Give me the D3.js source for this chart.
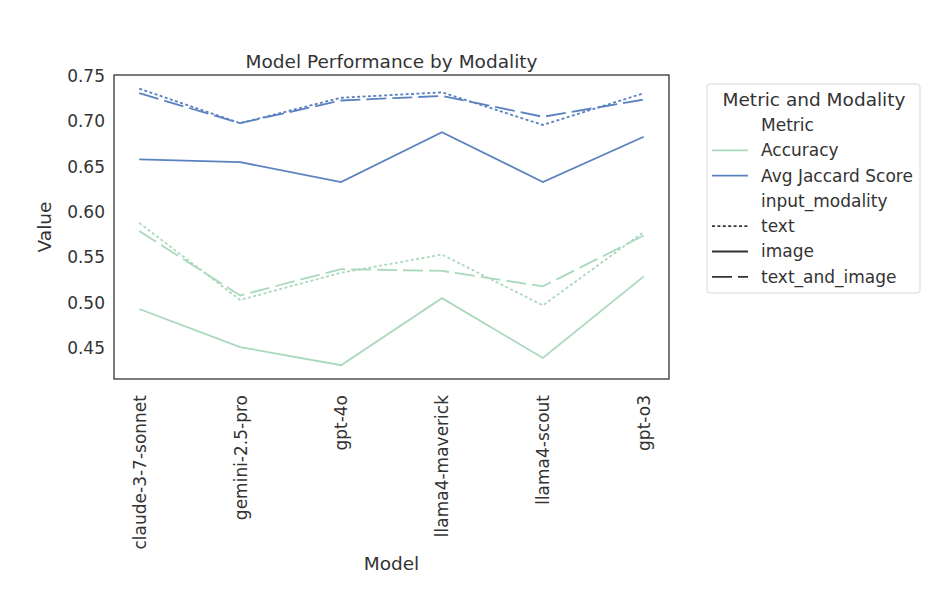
<!DOCTYPE html>
<html>
<head>
<meta charset="utf-8">
<script src="https://cdn.jsdelivr.net/npm/d3@7"></script>
<style>
  body { margin: 0; background: #ffffff; }
  svg { font-family: "DejaVu Sans", sans-serif; }
</style>
</head>
<body>
<svg id="chart" width="952" height="596"></svg>
<script>
var models = ["claude-3-7-sonnet", "gemini-2.5-pro", "gpt-4o", "llama4-maverick", "llama4-scout", "gpt-o3"];
var metrics = ["Accuracy", "Avg Jaccard Score"];
var modalities = ["text", "image", "text_and_image"];

// values per model, same order as models
var accText = [0.588, 0.503, 0.533, 0.553, 0.497, 0.578];
var accImage = [0.493, 0.451, 0.431, 0.505, 0.439, 0.529];
var accBoth = [0.579, 0.508, 0.537, 0.535, 0.518, 0.574];
var jacText = [0.736, 0.698, 0.726, 0.732, 0.696, 0.731];
var jacImage = [0.658, 0.655, 0.633, 0.688, 0.633, 0.683];
var jacBoth = [0.731, 0.698, 0.723, 0.728, 0.705, 0.724];

var yTicks = [0.45, 0.50, 0.55, 0.60, 0.65, 0.70, 0.75];

var series = [
  {metric: "Accuracy", modality: "text", values: accText},
  {metric: "Accuracy", modality: "image", values: accImage},
  {metric: "Accuracy", modality: "text_and_image", values: accBoth},
  {metric: "Avg Jaccard Score", modality: "text", values: jacText},
  {metric: "Avg Jaccard Score", modality: "image", values: jacImage},
  {metric: "Avg Jaccard Score", modality: "text_and_image", values: jacBoth}
];

var colors = {"Accuracy": "#a9d9bb", "Avg Jaccard Score": "#5b82bf"};
var dashes = {"text": "3,2.4", "image": null, "text_and_image": "20,6"};

var svg = d3.select("#chart");
var plotL = 114, plotR = 669, plotT = 75, plotB = 379;

var x = d3.scalePoint().domain(models).range([plotL, plotR]).padding(0.25);
var y = d3.scaleLinear().domain([0.4158, 0.7511]).range([plotB, plotT]);

var line = d3.line()
  .x(function(d, i) { return x(models[i]); })
  .y(function(d) { return y(d); });

// lines
svg.append("g").selectAll("path")
  .data(series)
  .join("path")
  .attr("d", function(s) { return line(s.values); })
  .attr("fill", "none")
  .attr("stroke", function(s) { return colors[s.metric]; })
  .attr("stroke-width", 1.8)
  .attr("stroke-dasharray", function(s) { return dashes[s.modality]; });

// frame
svg.append("rect")
  .attr("x", plotL).attr("y", plotT)
  .attr("width", plotR - plotL).attr("height", plotB - plotT)
  .attr("fill", "none").attr("stroke", "#333").attr("stroke-width", 1.3);

// y axis
var yAxis = svg.append("g")
  .attr("transform", "translate(" + plotL + ",0)")
  .call(d3.axisLeft(y).tickValues(yTicks).tickFormat(d3.format(".2f")).tickSize(0).tickPadding(9));
yAxis.select(".domain").remove();
yAxis.selectAll("text").attr("font-size", 17).attr("fill", "#333").attr("font-family", "DejaVu Sans");

// x axis
var xAxis = svg.append("g")
  .attr("transform", "translate(0," + plotB + ")")
  .call(d3.axisBottom(x).tickSize(0).tickPadding(0));
xAxis.select(".domain").remove();
xAxis.selectAll("text")
  .attr("font-size", 17).attr("fill", "#333").attr("font-family", "DejaVu Sans")
  .attr("text-anchor", "end")
  .attr("dy", "0.35em")
  .attr("transform", "translate(0,16) rotate(-90)")
  .attr("x", 0).attr("y", 0);

// title and axis labels
svg.append("text").attr("x", (plotL + plotR) / 2).attr("y", 68)
  .attr("text-anchor", "middle").attr("font-size", 18.5).attr("fill", "#333")
  .text("Model Performance by Modality");
svg.append("text").attr("transform", "translate(51," + ((plotT + plotB) / 2) + ") rotate(-90)")
  .attr("text-anchor", "middle").attr("font-size", 18.5).attr("fill", "#333")
  .text("Value");
svg.append("text").attr("x", (plotL + plotR) / 2).attr("y", 570)
  .attr("text-anchor", "middle").attr("font-size", 18.5).attr("fill", "#333")
  .text("Model");

// legend
var leg = svg.append("g");
leg.append("rect")
  .attr("x", 707).attr("y", 84).attr("width", 213).attr("height", 209)
  .attr("rx", 3).attr("fill", "#fff").attr("stroke", "#d8d8d8");
leg.append("text").attr("x", 814).attr("y", 106)
  .attr("text-anchor", "middle").attr("font-size", 18.5).attr("fill", "#333")
  .text("Metric and Modality");

var entries = [{label: "Metric"}]
  .concat(metrics.map(function(m) { return {label: m, color: colors[m], dash: null}; }))
  .concat([{label: "input_modality"}])
  .concat(modalities.map(function(m) { return {label: m, color: "#333", dash: dashes[m]}; }));

var rows = leg.selectAll("g.row")
  .data(entries)
  .join("g")
  .attr("class", "row")
  .attr("transform", function(d, i) { return "translate(0," + (125 + i * 25.3) + ")"; });
rows.filter(function(d) { return d.color; })
  .append("line")
  .attr("x1", 712).attr("x2", 748).attr("y1", 0).attr("y2", 0)
  .attr("stroke", function(d) { return d.color; })
  .attr("stroke-width", 1.8)
  .attr("stroke-dasharray", function(d) { return d.dash; });
rows.append("text")
  .attr("x", 761).attr("dy", "0.35em")
  .attr("font-size", 17).attr("fill", "#333")
  .text(function(d) { return d.label; });
</script>
</body>
</html>
